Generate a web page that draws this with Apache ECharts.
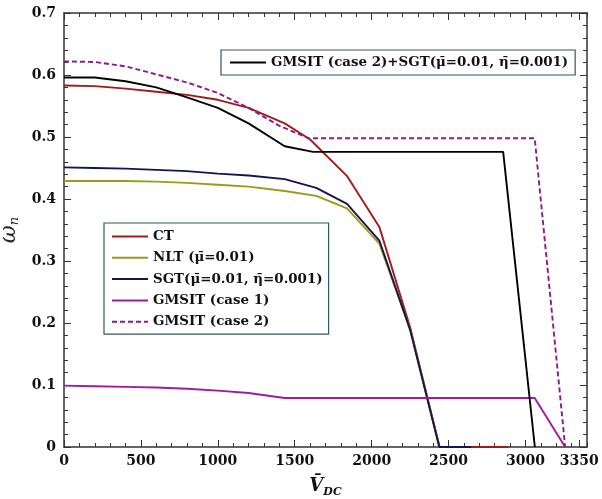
<!DOCTYPE html>
<html>
<head>
<meta charset="utf-8">
<script src="https://cdn.jsdelivr.net/npm/echarts@6/dist/echarts.min.js"></script>
<style>html,body{margin:0;padding:0;background:#fff}#c{width:602px;height:499px}</style>
</head>
<body>
<div id="c"></div>
<script>
// x tick labels
const xTickLabels = [0, 500, 1000, 1500, 2000, 2500, 3000, 3350];
const yTicks = [0, 0.1, 0.2, 0.3, 0.4, 0.5, 0.6, 0.7];

// series values [V_DC, omega_n]
const CT = [[0,0.583],[200,0.582],[400,0.578],[600,0.573],[800,0.568],[1000,0.560],[1200,0.547],[1435,0.522],[1600,0.496],[1840,0.437],[2050,0.355],[2250,0.193],[2442,0],[2890,0]];
const NLT = [[0,0.429],[200,0.429],[400,0.429],[600,0.428],[800,0.426],[1000,0.423],[1200,0.420],[1435,0.413],[1640,0.405],[1840,0.385],[2050,0.328],[2250,0.190],[2440,0],[2650,0]];
const SGT = [[0,0.451],[200,0.450],[400,0.449],[600,0.447],[800,0.445],[1000,0.441],[1200,0.438],[1435,0.432],[1640,0.418],[1840,0.392],[2050,0.333],[2250,0.189],[2440,0],[2650,0]];
const GMSIT1 = [[0,0.099],[200,0.098],[400,0.097],[600,0.096],[800,0.094],[1000,0.091],[1200,0.087],[1435,0.079],[3060,0.079],[3258,0]];
const GMSIT2 = [[0,0.622],[200,0.621],[400,0.614],[600,0.601],[800,0.588],[1000,0.571],[1200,0.547],[1400,0.518],[1590,0.498],[3060,0.498],[3258,0]];
const GMSIT2_SGT = [[0,0.596],[200,0.596],[400,0.590],[600,0.580],[800,0.564],[1000,0.547],[1200,0.522],[1435,0.485],[1620,0.476],[2855,0.476],[3061,0]];

const names = ['CT', 'NLT (\u03bc\u0304=0.01)', 'SGT(\u03bc\u0304=0.01, \u03b7\u0304=0.001)', 'GMSIT (case 1)', 'GMSIT (case 2)', 'GMSIT (case 2)+SGT(\u03bc\u0304=0.01, \u03b7\u0304=0.001)'];
const colors = ['#a01c1c', '#9c9a16', '#16164e', '#a01aa0', '#8a1a8a', '#000000'];

const FONT = 'DejaVu Serif';
const frame = '#333';
const XMAX = 3400;

function mk(name, data, color, dashed) {
  return {
    type: 'line', name: name, data: data, symbol: 'none', showSymbol: false,
    xAxisIndex: 0, yAxisIndex: 0,
    lineStyle: { color: color, width: 1.9, type: dashed ? [5, 3] : 'solid' },
    itemStyle: { color: color }
  };
}

const legendText = { fontFamily: FONT, fontWeight: 'bold', fontSize: 13.4, color: '#111' };
const noSym = { color: 'rgba(0,0,0,0)', borderWidth: 0, borderColor: 'rgba(0,0,0,0)' };

const chart = echarts.init(document.getElementById('c'));
chart.setOption({
  animation: false,
  backgroundColor: '#fff',
  grid: { left: 64, right: 15, top: 13, bottom: 52, containLabel: false, outerBoundsMode: 'none' },
  xAxis: [
    { type: 'value', position: 'bottom', min: 0, max: XMAX, interval: 100,
      axisLine: { show: true, onZero: false, lineStyle: { color: frame, width: 1.5 } },
      axisTick: { show: true, inside: true, length: 4, lineStyle: { color: frame } },
      axisLabel: { show: false }, splitLine: { show: false } },
    { type: 'value', position: 'bottom', min: 0, max: XMAX,
      axisLine: { show: false, onZero: false },
      axisTick: { show: true, inside: true, length: 7, customValues: xTickLabels, lineStyle: { color: frame } },
      axisLabel: { show: true, customValues: xTickLabels, fontFamily: FONT, fontWeight: 'bold', fontSize: 14, color: '#111', margin: 7,
        formatter: function (v) { return String(Math.round(v)); } },
      splitLine: { show: false },
      name: '{v|V\u0304}{s|DC}', nameLocation: 'middle', nameGap: 27,
      nameTextStyle: { rich: {
        v: { fontFamily: FONT, fontStyle: 'italic', fontWeight: 'bold', fontSize: 18, color: '#111' },
        s: { fontFamily: FONT, fontStyle: 'italic', fontWeight: 'bold', fontSize: 11, color: '#111', padding: [13, 0, 0, 0] } } } },
    { type: 'value', position: 'top', min: 0, max: XMAX, interval: 100,
      axisLine: { show: true, onZero: false, lineStyle: { color: frame, width: 1.5 } },
      axisTick: { show: true, inside: true, length: 4, lineStyle: { color: frame } },
      axisLabel: { show: false }, splitLine: { show: false } },
    { type: 'value', position: 'top', min: 0, max: XMAX,
      axisLine: { show: false, onZero: false },
      axisTick: { show: true, inside: true, length: 7, customValues: xTickLabels, lineStyle: { color: frame } },
      axisLabel: { show: false }, splitLine: { show: false } }
  ],
  yAxis: [
    { type: 'value', position: 'left', min: 0, max: 0.7, interval: 0.1,
      axisLine: { show: true, onZero: false, lineStyle: { color: frame, width: 1.5 } },
      axisTick: { show: true, inside: true, length: 7, lineStyle: { color: frame } },
      minorTick: { show: true, splitNumber: 5, length: 4, lineStyle: { color: frame } },
      axisLabel: { fontFamily: FONT, fontWeight: 'bold', fontSize: 14, color: '#111', margin: 8,
        formatter: function (v) { return Math.abs(v) < 1e-9 ? '0' : v.toFixed(1); } },
      splitLine: { show: false },
      name: '{w|\u03c9\u0304}{s|n}', nameLocation: 'middle', nameGap: 33, nameRotate: 90,
      nameTextStyle: { rich: {
        w: { fontFamily: FONT, fontStyle: 'italic', fontSize: 22, color: '#222' },
        s: { fontFamily: FONT, fontStyle: 'italic', fontSize: 13, color: '#222', padding: [10, 0, 0, 0] } } } },
    { type: 'value', position: 'right', min: 0, max: 0.7, interval: 0.1,
      axisLine: { show: true, onZero: false, lineStyle: { color: frame, width: 1.5 } },
      axisTick: { show: true, inside: true, length: 7, lineStyle: { color: frame } },
      minorTick: { show: true, splitNumber: 5, length: 4, lineStyle: { color: frame } },
      axisLabel: { show: false }, splitLine: { show: false } }
  ],
  legend: [
    { data: [names[5]], orient: 'horizontal', left: 221, top: 50, selectedMode: false,
      itemWidth: 36, itemHeight: 14, padding: [6, 7, 6, 8], itemStyle: noSym,
      backgroundColor: '#fff', borderColor: '#2f5a5a', borderWidth: 1.2,
      textStyle: legendText },
    { data: names.slice(0, 5), orient: 'vertical', left: 104, top: 223, selectedMode: false,
      itemWidth: 36, itemHeight: 14, itemGap: 8.3, padding: [7, 6, 6, 7], itemStyle: noSym,
      backgroundColor: '#fff', borderColor: '#2f5a5a', borderWidth: 1.2,
      textStyle: legendText }
  ],
  series: [
    mk(names[0], CT, colors[0], false),
    mk(names[1], NLT, colors[1], false),
    mk(names[2], SGT, colors[2], false),
    mk(names[3], GMSIT1, colors[3], false),
    mk(names[4], GMSIT2, colors[4], true),
    mk(names[5], GMSIT2_SGT, colors[5], false)
  ]
});
</script>
</body>
</html>
